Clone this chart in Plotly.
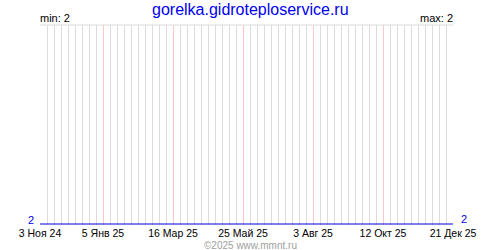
import plotly.graph_objects as go

# Data
dates = ["2024-11-03", "2025-12-21"]
values = [2, 2]
tick_dates = ["2024-11-03", "2025-01-05", "2025-03-16", "2025-05-25",
              "2025-08-03", "2025-10-12", "2025-12-21"]
tick_labels = ["3 Ноя 24", "5 Янв 25", "16 Мар 25", "25 Май 25",
               "3 Авг 25", "12 Окт 25", "21 Дек 25"]
title_text = "gorelka.gidroteploservice.ru"
footer_text = "©2025 www.mmnt.ru"
min_val = 2
max_val = 2

FONT = "Liberation Sans, Arial, sans-serif"
WEEK_MS = 7 * 86400000
CX = (250 - 40) / 413  # paper x of page centre

fig = go.Figure()
fig.add_trace(go.Scatter(x=dates, y=values, mode="lines",
                         line=dict(color="#0000dd", width=1.2),
                         hoverinfo="skip", showlegend=False))

fig.update_layout(
    width=500, height=250,
    margin=dict(l=40, r=47, t=25, b=25),
    paper_bgcolor="white", plot_bgcolor="white",
    font=dict(family=FONT, size=11, color="black"),
    xaxis=dict(
        type="date",
        range=[dates[0], dates[-1]],
        tickmode="array", tickvals=tick_dates, ticktext=tick_labels,
        showgrid=True, gridcolor="#ffc8c8", gridwidth=1,
        showline=False, zeroline=False, ticks="",
        ticklabelstandoff=0,
        tickfont=dict(family=FONT, size=10.5, color="black"),
        minor=dict(tickmode="linear", tick0=dates[0], dtick=WEEK_MS,
                   showgrid=True, gridcolor="#dcdcdc", gridwidth=1),
        fixedrange=True,
    ),
    yaxis=dict(range=[1.995, 3], showgrid=False, showticklabels=False,
               zeroline=False, showline=False, ticks="", fixedrange=True),
    shapes=[dict(type="line", xref="paper", yref="paper", x0=0, x1=1,
                 y0=1, y1=1, line=dict(color="#dcdcdc", width=1))],
    annotations=[
        dict(text=title_text, xref="paper", yref="paper", x=CX,
             y=1, yshift=16, showarrow=False, xanchor="center", yanchor="middle",
             font=dict(family=FONT, size=16, color="#0000ee")),
        dict(text="min: " + str(min_val), xref="paper", yref="paper", x=0, y=1,
             yshift=-1, showarrow=False, xanchor="left", yanchor="bottom", xshift=-2,
             font=dict(family=FONT, size=11, color="black")),
        dict(text="max: " + str(max_val), xref="paper", yref="paper", x=1, y=1,
             yshift=-1, showarrow=False, xanchor="right", yanchor="bottom", xshift=2,
             font=dict(family=FONT, size=11, color="black")),
        dict(text=str(values[0]), xref="paper", yref="y", x=0, y=values[0],
             showarrow=False, xanchor="right", yanchor="bottom", xshift=-4, yshift=-4,
             font=dict(family=FONT, size=11, color="#0000dd")),
        dict(text=str(values[-1]), xref="paper", yref="y", x=1, y=values[-1],
             showarrow=False, xanchor="left", yanchor="bottom", xshift=6, yshift=-3,
             font=dict(family=FONT, size=11, color="#0000dd")),
        dict(text=footer_text, xref="paper", yref="paper", x=CX,
             y=0, yshift=-20, showarrow=False, xanchor="center", yanchor="middle",
             font=dict(family=FONT, size=10, color="#a0a0a0")),
    ],
)

fig.write_html("out.html")
